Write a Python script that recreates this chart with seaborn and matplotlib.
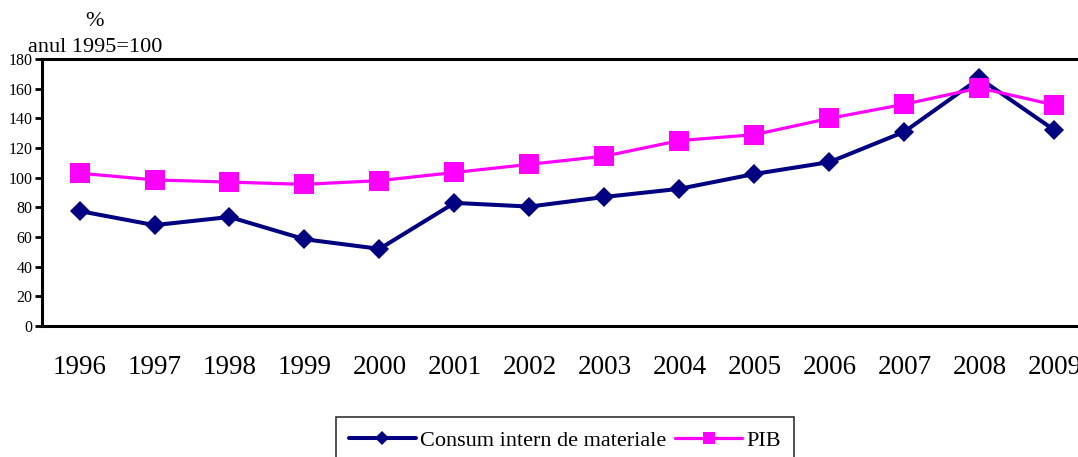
import matplotlib
matplotlib.use("Agg")
import matplotlib.pyplot as plt
import seaborn as sns
import pandas as pd
import numpy as np
from matplotlib.lines import Line2D

years = ["1996", "1997", "1998", "1999", "2000", "2001", "2002", "2003",
         "2004", "2005", "2006", "2007", "2008", "2009"]
consum = [77.5, 68, 73.5, 58.5, 52, 83, 80.5, 87, 92.5, 102.5, 110.5, 131, 167, 132]
pib = [103, 98.5, 97, 95.5, 98, 103.5, 109, 114.5, 125, 129, 140, 149.5, 160.5, 149]
series_names = ["Consum intern de materiale", "PIB"]
y_ticks = [0, 20, 40, 60, 80, 100, 120, 140, 160, 180]

sns.set_style("white")
plt.rcParams['font.family'] = ['Liberation Serif', 'DejaVu Serif']
plt.rcParams['text.color'] = 'black'
plt.rcParams['xtick.color'] = 'black'
plt.rcParams['ytick.color'] = 'black'
plt.rcParams['xtick.labelcolor'] = 'black'
plt.rcParams['ytick.labelcolor'] = 'black'

df = pd.DataFrame({
    "pos": list(range(len(years))) * 2,
    "value": consum + pib,
    "series": [series_names[0]] * len(years) + [series_names[1]] * len(years),
})

fig = plt.figure(figsize=(10.78, 4.57), dpi=100)
ax = fig.add_axes([42 / 1078, 1 - 326 / 457, 1050 / 1078, 267 / 457])

colors = {series_names[0]: "#000080", series_names[1]: "#FF00FF"}
sns.lineplot(data=df, x="pos", y="value", hue="series", style="series",
             markers={series_names[0]: "D", series_names[1]: "s"},
             dashes=False, palette=colors, ax=ax, legend=False)

lines = ax.get_lines()
lines[0].set_linewidth(2.9)
lines[0].set_markersize(10.5)
lines[0].set_markeredgewidth(0)
lines[0].set_zorder(3)
lines[1].set_linewidth(2.3)
lines[1].set_markersize(15)
lines[1].set_markeredgewidth(0)
lines[1].set_zorder(4)

ax.set_xlim(-0.5, len(years) - 0.5)
ax.set_ylim(0, 180)
ax.set_yticks(y_ticks)
ax.set_yticklabels([str(v) for v in y_ticks], fontsize=11.5)
ax.set_xticks(range(len(years)))
ax.set_xticklabels(years, fontsize=19.5)
ax.set_xticks(np.arange(-0.5, len(years), 1.0), minor=True)
ax.tick_params(axis="x", which="major", length=0, pad=21)
ax.tick_params(axis="x", which="minor", length=7, width=2, direction="out", color="black")
ax.tick_params(axis="y", length=5, width=2, direction="out", color="black", pad=2, left=True)
ax.set_xlabel("")
ax.set_ylabel("")

for side in ["left", "bottom", "top"]:
    ax.spines[side].set_visible(True)
    ax.spines[side].set_color("black")
    ax.spines[side].set_linewidth(2.2)
ax.spines["right"].set_visible(False)

fig.text(95 / 1078, 1 - 22 / 457, "%", ha="center", va="center", fontsize=16)
fig.text(95 / 1078, 1 - 48 / 457, "anul 1995=100", ha="center", va="center", fontsize=16)

handles = [
    Line2D([], [], color="#000080", lw=2.9, marker="D", markersize=7, markeredgewidth=0),
    Line2D([], [], color="#FF00FF", lw=2.3, marker="s", markersize=9, markeredgewidth=0),
]
leg = fig.legend(handles, series_names, loc="upper center",
                 bbox_to_anchor=(565 / 1078, 1 - 417 / 457), ncol=2, frameon=True,
                 fontsize=16, handlelength=3.0, handletextpad=0.2, columnspacing=0.4,
                 fancybox=False, borderpad=0.6, borderaxespad=0)
leg.get_frame().set_edgecolor("black")
leg.get_frame().set_linewidth(1.2)

fig.savefig("out.png", dpi=100)
